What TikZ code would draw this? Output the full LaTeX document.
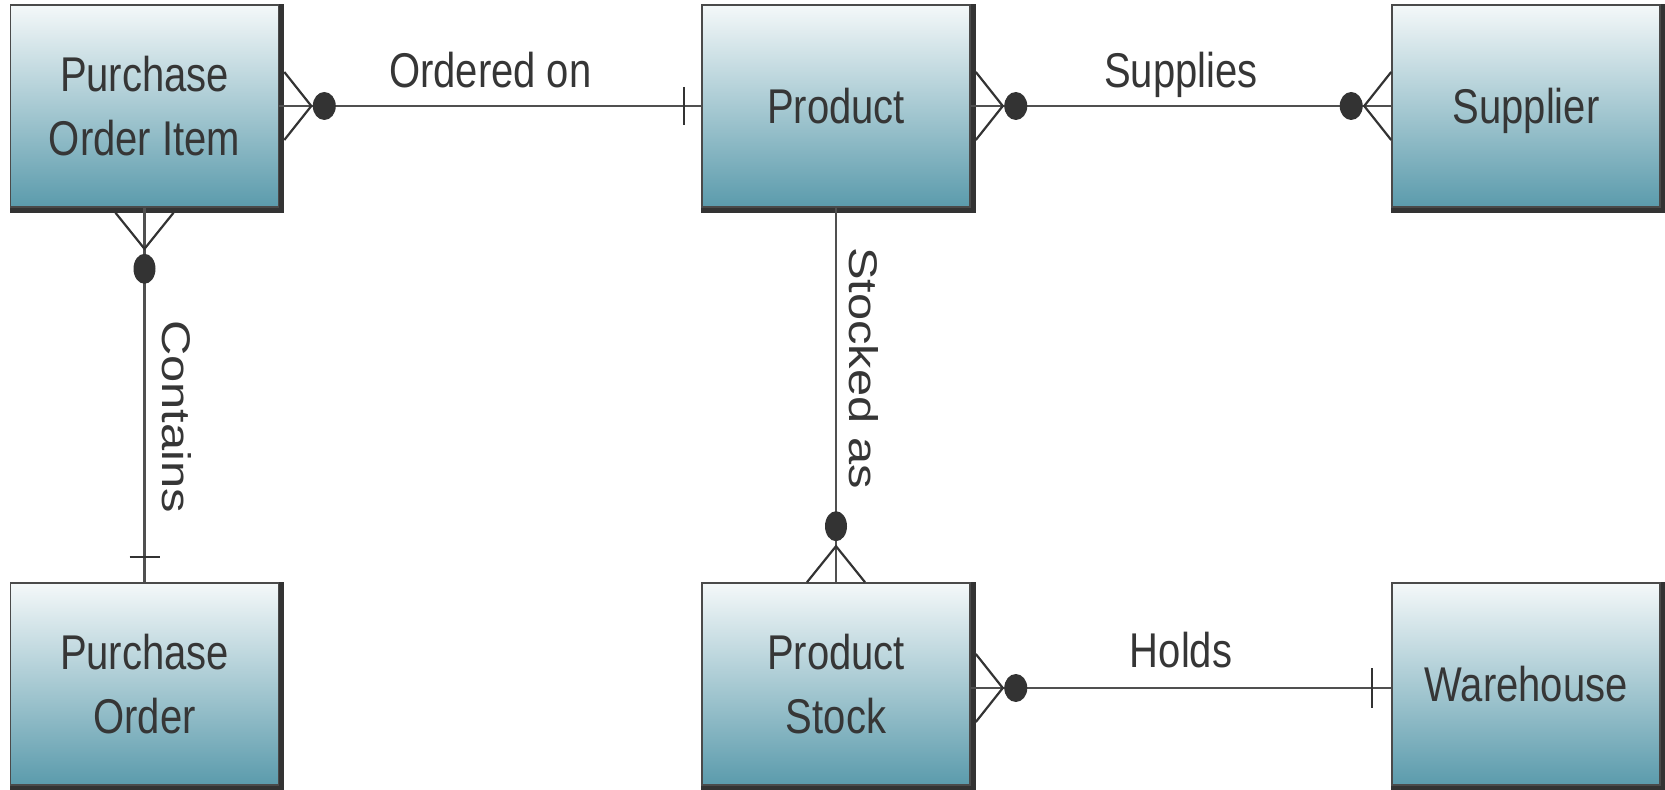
\documentclass[tikz,border=0pt]{standalone}
\usepackage{fontspec}
\setmainfont{Liberation Sans}
\usepackage{graphicx}
\usetikzlibrary{calc}
\definecolor{boxtop}{HTML}{F4F8F9}
\definecolor{boxbot}{HTML}{5B9BAC}
\definecolor{edgecol}{HTML}{4A4A4A}
\definecolor{shadcol}{HTML}{333333}
\definecolor{linecol}{HTML}{505050}
\definecolor{dotcol}{HTML}{333333}
\definecolor{txtcol}{HTML}{363636}
\newcommand\tallt[1]{\raisebox{-2.5pt}[\height][\depth]{\scalebox{1}[1.22]{\begin{tabular}{@{}c@{}}#1\end{tabular}}}}
\newcommand\tallone[1]{\scalebox{1}[1.22]{#1}}
\newcommand\widet[1]{\scalebox{1.22}[1]{#1}}
% horizontal crow's foot: #1 edge point, #2 sign (+1 to the right, -1 to the left)
\newcommand\crowH[2]{%
  \draw[crow] ($(#1)+(0,-34)$) -- ($(#1)+(#2*27,0)$) -- ($(#1)+(0,34)$);
  \fill[dotcol] ($(#1)+(#2*40,0)$) ellipse [x radius=5.75pt, y radius=7pt];}
% vertical crow's foot: #1 edge point, #2 sign (+1 downward, -1 upward)
\newcommand\crowV[2]{%
  \draw[crow] ($(#1)+(-29,0)$) -- ($(#1)+(0,#2*36)$) -- ($(#1)+(29,0)$);
  \fill[dotcol] ($(#1)+(0,#2*56)$) ellipse [x radius=5.5pt, y radius=7.5pt];}
\begin{document}
\begin{tikzpicture}[x=0.5pt,y=-0.5pt,
  entity/.style={draw=edgecol, line width=0.8pt, top color=boxtop, bottom color=boxbot,
    minimum width=134pt, minimum height=101pt, inner sep=0pt, text=txtcol,
    font=\fontsize{20pt}{26pt}\selectfont},
  conn/.style={draw=linecol, line width=1.3pt},
  crow/.style={draw=shadcol, line width=1.1pt},
  lbl/.style={text=txtcol, font=\fontsize{20pt}{26pt}\selectfont, inner sep=0pt},
  shad/.style={draw=shadcol, line width=2.5pt}
]
\useasboundingbox (0,0) rectangle (1665,790);

\node[entity] (poi)  at (144.5,106) {\tallt{Purchase\\Order Item}};
\node[entity] (prod) at (836,106)   {\tallt{Product}};
\node[entity] (sup)  at (1526,106)  {\tallt{Supplier}};
\node[entity] (po)   at (144.5,684) {\tallt{Purchase\\Order}};
\node[entity] (ps)   at (836,684)   {\tallt{Product\\Stock}};
\node[entity] (wh)   at (1526,684)  {\tallt{Warehouse}};

\foreach \n in {poi,prod,sup,po,ps,wh}
  \draw[shad] ([shift={(2.5,0)}]\n.north east) -- ([shift={(2.5,2.5)}]\n.south east)
    -- ([shift={(0,2.5)}]\n.south west);

% Ordered on
\draw[conn] (poi.east) -- (prod.west);
\crowH{[xshift=2.5pt]poi.east}{1}
\draw[crow] ($(prod.west)+(-17,-19)$) -- ($(prod.west)+(-17,19)$);
\node[lbl, anchor=base] (lord) at ($(poi.east)!0.5!(prod.west)+(0,-18)$) {\tallone{Ordered on}};

% Supplies
\draw[conn] (prod.east) -- (sup.west);
\crowH{[xshift=2.5pt]prod.east}{1}
\crowH{sup.west}{-1}
\node[lbl, anchor=base] (lsup) at ($(prod.east)!0.5!(sup.west)+(0,-18)$) {\tallone{Supplies}};

% Holds
\draw[conn] ([yshift=-2pt]ps.east) -- ([yshift=-2pt]wh.west);
\crowH{[xshift=2.5pt,yshift=-2pt]ps.east}{1}
\draw[crow] ($(wh.west)+(-19,-16)$) -- ($(wh.west)+(-19,24)$);
\node[lbl, anchor=base] (lhol) at ($(ps.east)!0.5!(wh.west)+(0,-16)$) {\tallone{Holds}};

% Contains
\draw[conn] (poi.south) -- (po.north);
\crowV{[yshift=-2.5pt]poi.south}{1}
\draw[crow] ($(po.north)+(-15,-25)$) -- ($(po.north)+(15,-25)$);
\node[lbl, anchor=base, rotate=-90] (lcon) at ($(poi.south)!0.558!(po.north)+(17.5,0)$) {\widet{Contains}};

% Stocked as
\draw[conn] (prod.south) -- (ps.north);
\crowV{ps.north}{-1}
\node[lbl, anchor=base, rotate=-90] (lsto) at ($(prod.south)!0.428!(ps.north)+(13,0)$) {\widet{Stocked as}};
\end{tikzpicture}
\end{document}
